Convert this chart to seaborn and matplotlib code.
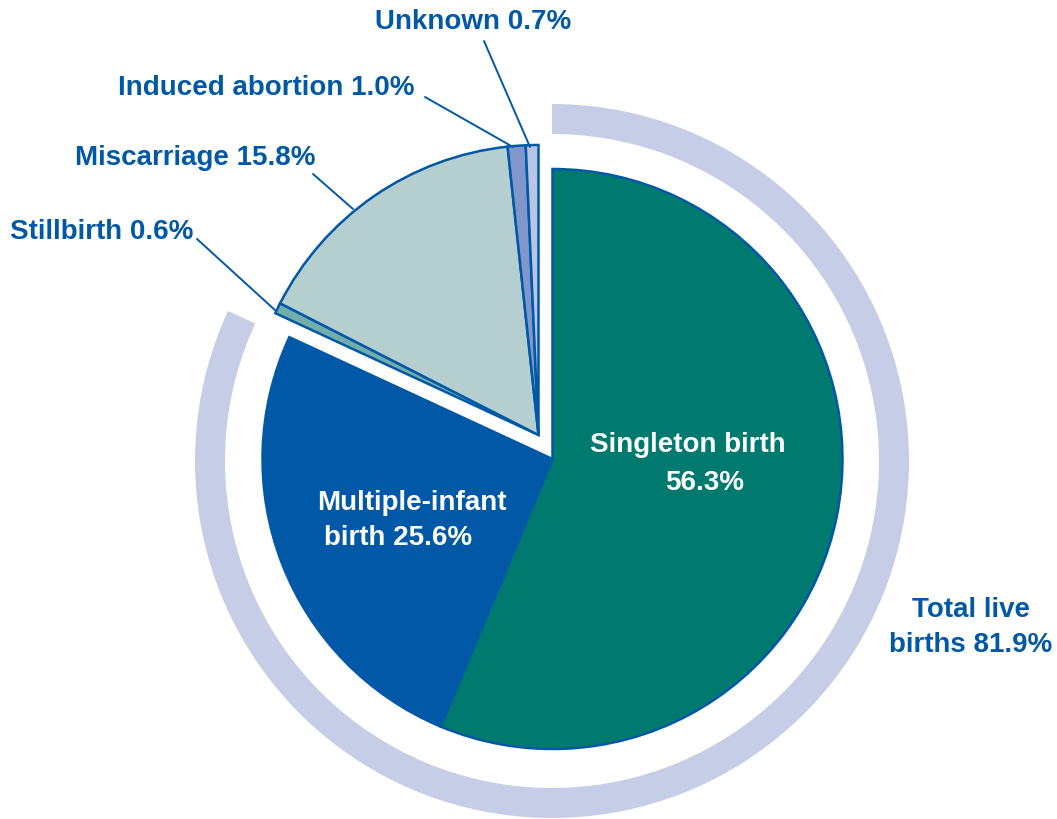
import matplotlib
matplotlib.use("Agg")
import matplotlib.pyplot as plt
import seaborn as sns

# data (percent of outcomes)
outcomes = ["Singleton birth", "Multiple-infant birth", "Stillbirth",
            "Miscarriage", "Induced abortion", "Unknown"]
shares = [56.3, 25.6, 0.6, 15.8, 1.0, 0.7]
is_live = [True, True, False, False, False, False]
live_total = 81.9
ring_parts = [live_total, round(100 - live_total, 1)]

slice_colors = ["#007A6E", "#0058A6", "#72ADA9", "#B5CFD0", "#8197CB", "#B9C5E3"]
ring_color = "#C6CDE6"
blue = "#0058A6"

sns.set_theme(style="white")
plt.rcParams["font.family"] = ["Liberation Sans", "DejaVu Sans"]

W, H = 1057, 820
fig = plt.figure(figsize=(W / 100, H / 100), dpi=100)
ax = fig.add_axes([0, 0, 1, 1])


def px(x, y):
    # image pixel coords -> data coords (y up)
    return (x, H - y)


center = px(552.5, 460)
radius = 290
shift = (-14, 24)  # group of non-live outcomes pulled out to the upper left

wedges, _ = ax.pie(shares, colors=slice_colors, startangle=90, counterclock=False,
                   center=center, radius=radius,
                   wedgeprops=dict(edgecolor=blue, linewidth=1.8))
for w, live in zip(wedges, is_live):
    if not live:
        w.set_center((center[0] + shift[0], center[1] + shift[1]))
        w.set_zorder(3)

# outer ring around the live births
ring, _ = ax.pie(ring_parts, colors=[ring_color, "none"], startangle=90,
                 counterclock=False, center=px(552, 462), radius=357,
                 wedgeprops=dict(width=30, linewidth=0))

ax.set_xlim(0, W)
ax.set_ylim(0, H)
ax.set_aspect("equal")
ax.axis("off")

lab = dict(color=blue, fontsize=20, fontweight="bold")
# outside labels with leader lines
callouts = [
    ("Unknown 0.7%", (375, 22), (484, 42), (530, 148)),
    ("Induced abortion 1.0%", (118, 88), (425, 98), (513, 148)),
    ("Miscarriage 15.8%", (75, 158), (313, 175), (353, 210)),
    ("Stillbirth 0.6%", (10, 232), (197, 240), (276, 312)),
]
for text, tpos, p0, p1 in callouts:
    ax.text(*px(*tpos), text, ha="left", va="center", **lab)
    ax.annotate("", xy=px(*p1), xytext=px(*p0),
                arrowprops=dict(arrowstyle="-", color=blue, lw=1.4,
                                shrinkA=0, shrinkB=0))

ax.text(*px(688, 445), "Singleton birth", ha="center", va="center",
        color="white", fontsize=20, fontweight="bold")
ax.text(*px(705, 483), "56.3%", ha="center", va="center",
        color="white", fontsize=20, fontweight="bold")
ax.text(*px(412, 503), "Multiple-infant", ha="center", va="center",
        color="white", fontsize=20, fontweight="bold")
ax.text(*px(398, 538), "birth 25.6%", ha="center", va="center",
        color="white", fontsize=20, fontweight="bold")
ax.text(*px(1030, 610), "Total live", ha="right", va="center", **lab)
ax.text(*px(1052, 645), "births 81.9%", ha="right", va="center", **lab)

fig.savefig("out.png", dpi=100)
